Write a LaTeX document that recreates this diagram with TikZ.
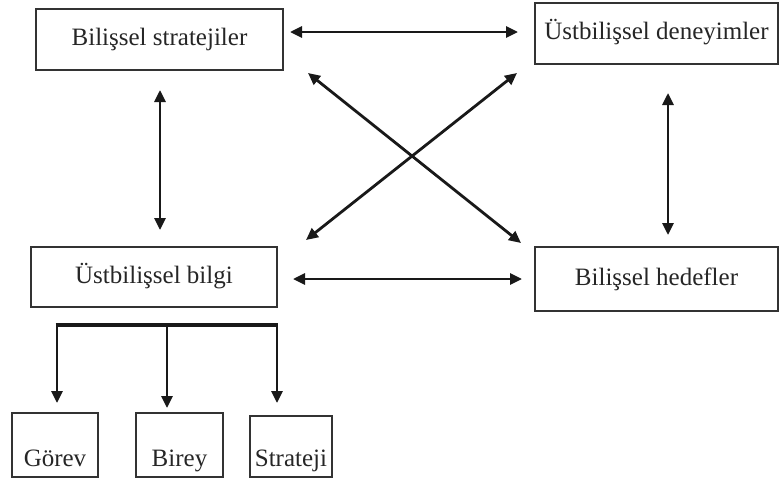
\documentclass[tikz,border=0pt]{standalone}
\usepackage{fontspec}
\setmainfont{Liberation Serif}
\usetikzlibrary{arrows.meta}
\begin{document}
\begin{tikzpicture}[x=1pt,y=-1pt,
  box/.style={draw=black!80, line width=1.8pt, fill=white, inner sep=0pt,
    font=\fontsize{25}{30}\selectfont, text=black!85, text height=17pt, text depth=5pt},
  small/.style={box, text height=45pt, text depth=3pt},
  conn/.style={line width=2.8pt, black!90, {Triangle[length=12pt,width=11pt]}-{Triangle[length=12pt,width=11pt]}},
  drop/.style={line width=2.8pt, black!90, -{Triangle[length=12pt,width=11pt]}},
  bar/.style={line width=3.8pt, black!90}]
\path[use as bounding box, fill=white] (0,0) rectangle (780,482);

\node[box, minimum width=247pt, minimum height=61pt] (bs) at (159.5,39.5) {Bilişsel stratejiler};
\node[box, minimum width=243pt, minimum height=61pt] (ud) at (656.5,33.5) {Üstbilişsel deneyimler};
\node[box, minimum width=246pt, minimum height=60pt] (ub) at (154,277) {Üstbilişsel bilgi};
\node[box, minimum width=243pt, minimum height=64pt] (bh) at (656.5,279) {Bilişsel hedefler};

\node[small, minimum width=86pt, minimum height=64pt] (gorev) at (55,445) {Görev};
\node[small, minimum width=87pt, minimum height=64pt] (birey) at (179.5,445) {Birey};
\node[small, minimum width=82pt, minimum height=61pt, text height=43.5pt] (strat) at (291,446.5) {Strateji};

% arrow end points
\coordinate (t1) at (290,32);  \coordinate (t2) at (518,32);
\coordinate (m1) at (293,279); \coordinate (m2) at (522,279);
\coordinate (l1) at (160,90);  \coordinate (l2) at (160,230);
\coordinate (r1) at (668,93);  \coordinate (r2) at (668,235);
\coordinate (d1) at (308,73);  \coordinate (d2) at (521,243);
\coordinate (e1) at (517,73);  \coordinate (e2) at (306,240);

\draw[conn] (t1) -- (t2);
\draw[conn] (m1) -- (m2);
\draw[conn] (l1) -- (l2);
\draw[conn] (r1) -- (r2);
\draw[conn] (d1) -- (d2);
\draw[conn] (e1) -- (e2);

% tree
\coordinate (ba) at (57,325); \coordinate (bm) at (167,325); \coordinate (bb) at (277,325);
\coordinate (ga) at (57,403); \coordinate (gm) at (167,408); \coordinate (gb) at (277,403);
\draw[bar] ([xshift=-1.4pt]ba) -- ([xshift=1.4pt]bb);
\draw[drop] (ba) -- (ga);
\draw[drop] (bm) -- (gm);
\draw[drop] (bb) -- (gb);
\end{tikzpicture}
\end{document}
